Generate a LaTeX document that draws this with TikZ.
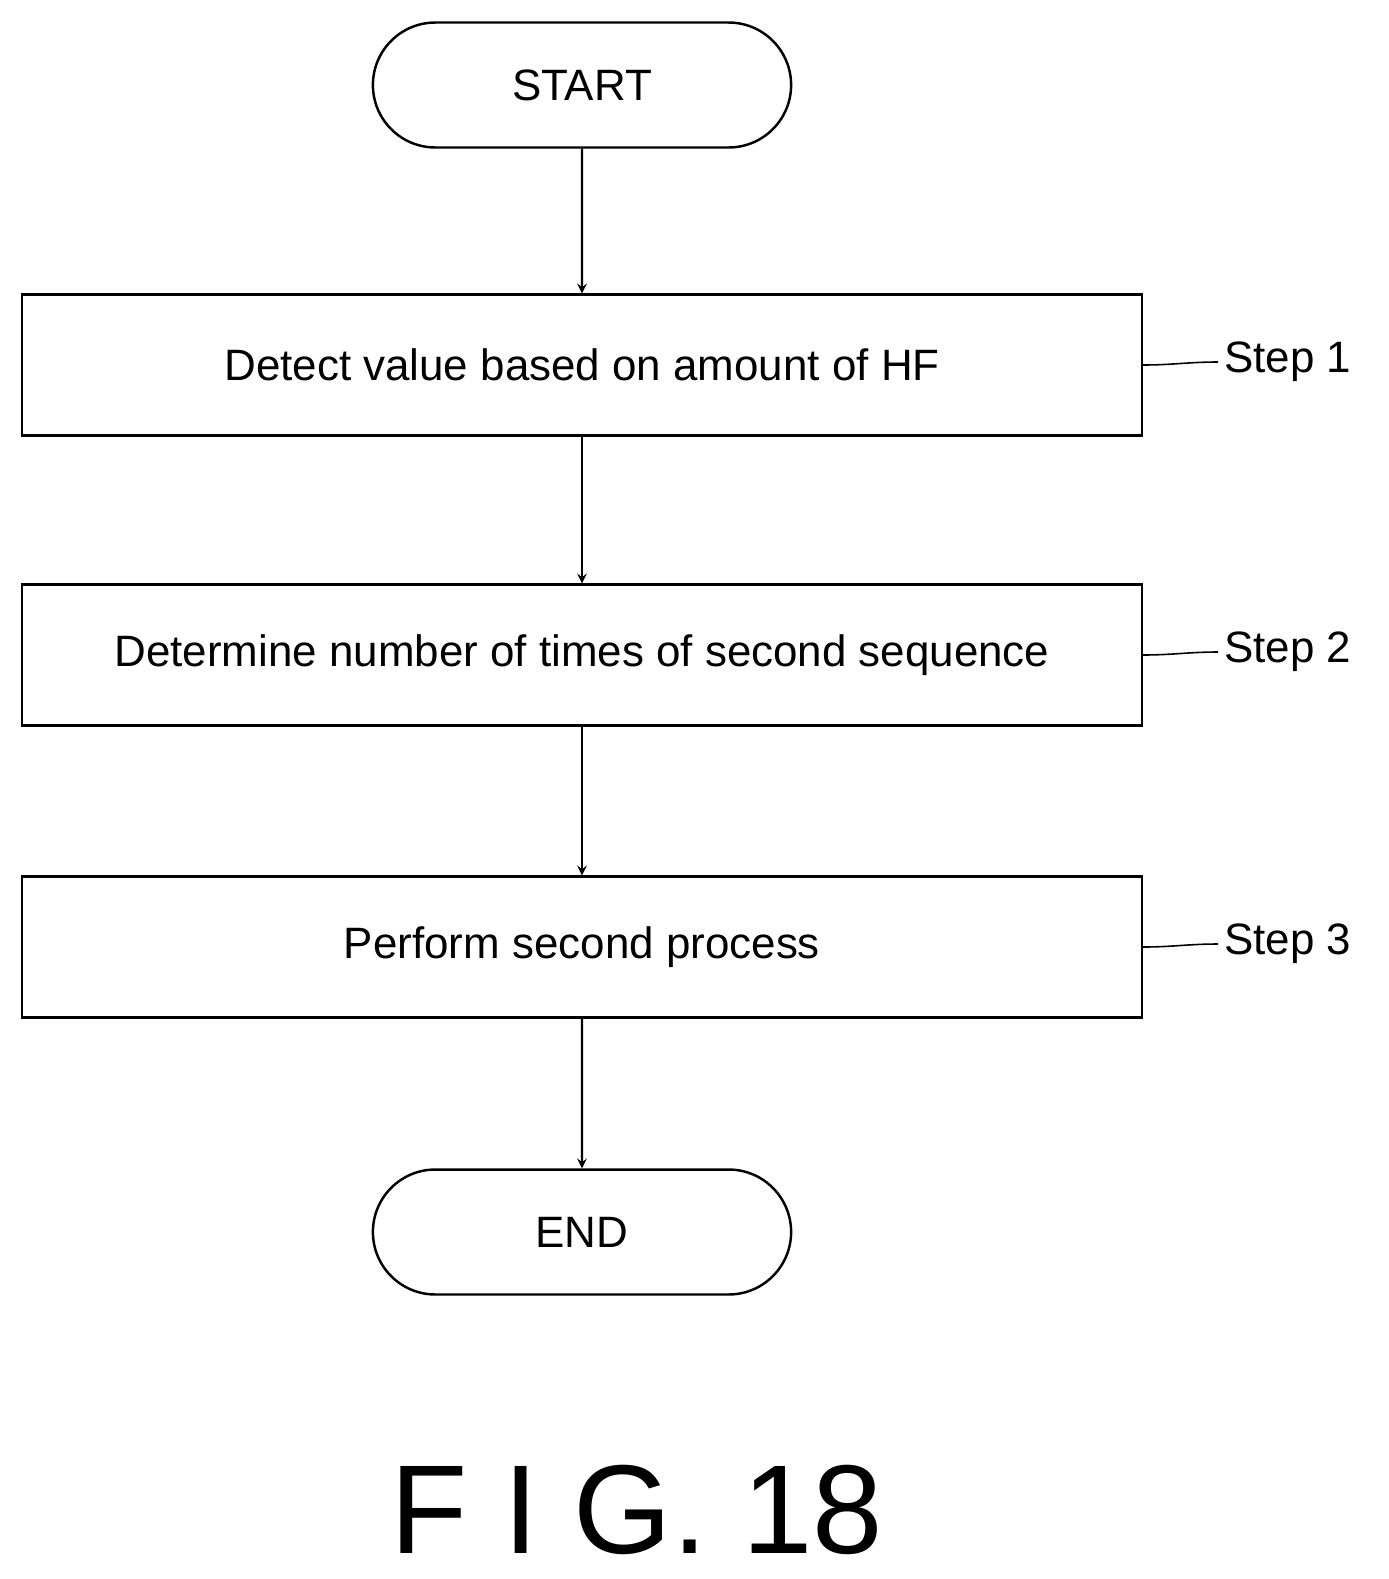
\documentclass[tikz,border=0pt]{standalone}
\usepackage{fontspec}
\setmainfont{Liberation Sans}
\usetikzlibrary{shapes.misc,positioning}
\begin{document}
\begin{tikzpicture}[
    x=0.02cm, y=-0.02cm,
    term/.style={rounded rectangle, draw, line width=1.4pt, minimum width=8.6cm, minimum height=2.5cm, font=\fontsize{25}{30}\selectfont},
    proc/.style={rectangle, draw, line width=1.4pt, minimum width=22.4cm, minimum height=2.82cm, font=\fontsize{25}{30}\selectfont},
    steplabel/.style={font=\fontsize{25}{30}\selectfont, anchor=west},
    arrow/.style={->, >=stealth, line width=1.4pt},
    wave/.style={line width=0.9pt}
]
    \useasboundingbox (0,0) rectangle (1389,1579);

    % Knoten
    \node[term] (start) at (582,85) {START};
    \node[proc] (s1) at (582,365) {Detect value based on amount of HF};
    \node[proc] (s2) at (582,655) {Determine number of times of second sequence};
    \node[proc] (s3) at (582,947) {Perform second process};
    \node[term] (end) at (582,1232) {END};

    % Schrittmarken
    \node[steplabel] (l1) at (1218,362) {Step 1};
    \node[steplabel] (l2) at (1218,652) {Step 2};
    \node[steplabel] (l3) at (1218,944) {Step 3};

    % Pfeile
    \draw[arrow] (start) -- (s1);
    \draw[arrow] (s1) -- (s2);
    \draw[arrow] (s2) -- (s3);
    \draw[arrow] (s3) -- (end);

    % Wellenlinien
    \draw[wave] (s1.east) to[out=0,in=180] (l1.west);
    \draw[wave] (s2.east) to[out=0,in=180] (l2.west);
    \draw[wave] (s3.east) to[out=0,in=180] (l3.west);

    \node[font=\fontsize{72}{80}\selectfont] (fig) at (637,1510) {F I G. 18};
\end{tikzpicture}
\end{document}
